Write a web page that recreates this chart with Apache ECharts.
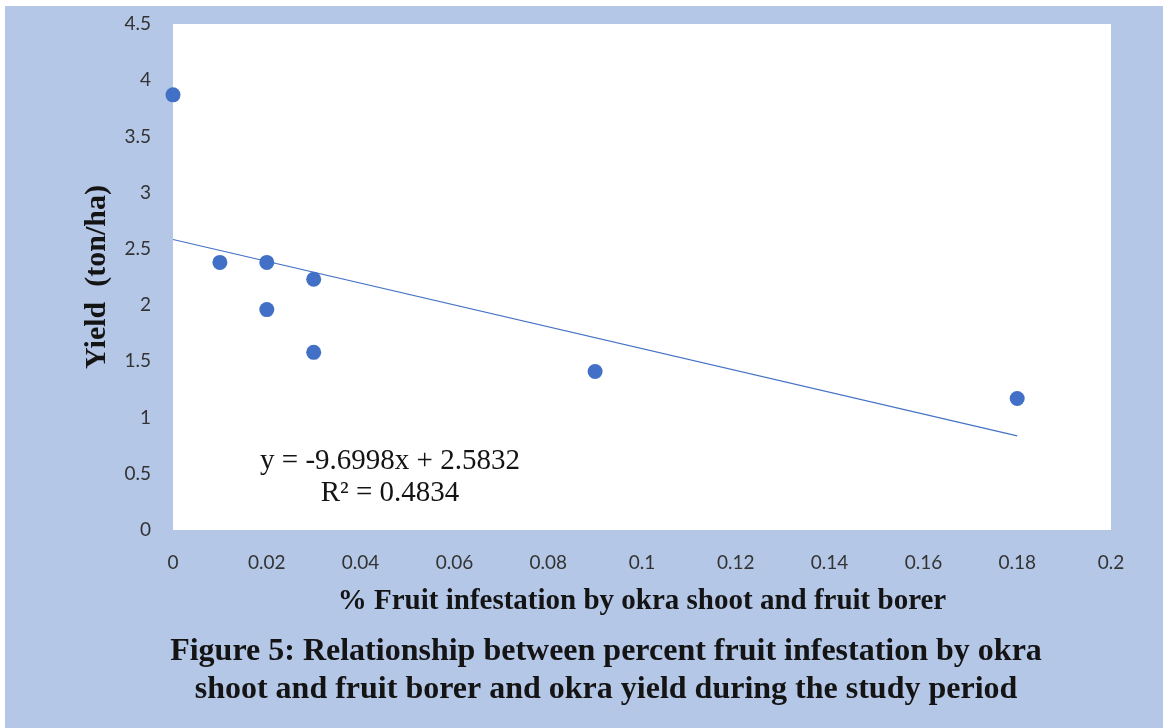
<!DOCTYPE html>
<html>
<head>
<meta charset="utf-8">
<script src="https://cdn.jsdelivr.net/npm/echarts@6/dist/echarts.min.js"></script>
<style>
  html, body { margin: 0; padding: 0; background: #ffffff; }
  #frame { position: absolute; left: 5px; top: 6px; width: 1158px; height: 722px; background: #b4c7e7; }
  #chart { position: absolute; left: 0; top: 0; width: 1169px; height: 728px; }
</style>
</head>
<body>
<div id="frame"></div>
<div id="chart"></div>
<script>
// Data
const infestation = [0, 0.01, 0.02, 0.02, 0.03, 0.03, 0.09, 0.18];
const yieldTonHa  = [3.87, 2.38, 2.38, 1.96, 2.23, 1.58, 1.41, 1.17];
// Linear trendline endpoints (y = -9.6998x + 2.5832 over the data range)
const trendX = [0, 0.18];
const trendY = [2.5832, 0.8372];
const equationText = 'y = -9.6998x + 2.5832';
const r2Text = 'R² = 0.4834';
const xAxisTitle = '% Fruit infestation by okra shoot and fruit borer';
const yAxisTitle = 'Yield  (ton/ha)';
const captionLines = [
  'Figure 5: Relationship between percent fruit infestation by okra',
  'shoot and fruit borer and okra yield during the study period'
];

const points = infestation.map((x, i) => [x, yieldTonHa[i]]);
const trend = trendX.map((x, i) => [x, trendY[i]]);

const chart = echarts.init(document.getElementById('chart'), null, { renderer: 'canvas' });
const labelStyle = { color: '#333333', fontSize: 19, fontFamily: 'Lato, "Open Sans", sans-serif' };
const serif = '"Liberation Serif", "Times New Roman", serif';

chart.setOption({
  backgroundColor: 'transparent',
  animation: false,
  grid: {
    left: 173, right: 58, top: 24, bottom: 198,
    show: true, backgroundColor: '#ffffff', borderWidth: 0
  },
  xAxis: {
    type: 'value', min: 0, max: 0.2, interval: 0.02,
    axisLine: { show: false }, axisTick: { show: false }, splitLine: { show: false },
    axisLabel: Object.assign({ margin: 23, formatter: v => String(+v.toFixed(2)) }, labelStyle),
    name: xAxisTitle, nameLocation: 'middle', nameGap: 57,
    nameTextStyle: { fontFamily: serif, fontWeight: 'bold', fontSize: 29, color: '#141414' }
  },
  yAxis: {
    type: 'value', min: 0, max: 4.5, interval: 0.5,
    axisLine: { show: false }, axisTick: { show: false }, splitLine: { show: false },
    axisLabel: Object.assign({ margin: 22, formatter: v => String(+v.toFixed(1)) }, labelStyle),
    name: yAxisTitle, nameLocation: 'middle', nameGap: 61, nameRotate: 90,
    nameTextStyle: { fontFamily: serif, fontWeight: 'bold', fontSize: 30, color: '#141414' }
  },
  series: [
    {
      type: 'line', data: trend, symbol: 'none', silent: true,
      lineStyle: { color: '#4472c4', width: 1.2 }, z: 1
    },
    {
      type: 'scatter', data: points, symbolSize: 15,
      itemStyle: { color: '#4170c6', opacity: 1 }, z: 2
    }
  ],
  graphic: [
    { type: 'text', x: 390, y: 461, silent: true,
      style: { text: equationText, fontFamily: serif, fontSize: 29, fill: '#141414', align: 'center', verticalAlign: 'middle' } },
    { type: 'text', x: 390, y: 493, silent: true,
      style: { text: r2Text, fontFamily: serif, fontSize: 29, fill: '#141414', align: 'center', verticalAlign: 'middle' } },
    { type: 'text', x: 606, y: 652, silent: true,
      style: { text: captionLines[0], fontFamily: serif, fontWeight: 'bold', fontSize: 32, fill: '#141414', align: 'center', verticalAlign: 'middle' } },
    { type: 'text', x: 606, y: 690, silent: true,
      style: { text: captionLines[1], fontFamily: serif, fontWeight: 'bold', fontSize: 32, fill: '#141414', align: 'center', verticalAlign: 'middle' } }
  ]
});
</script>
</body>
</html>
